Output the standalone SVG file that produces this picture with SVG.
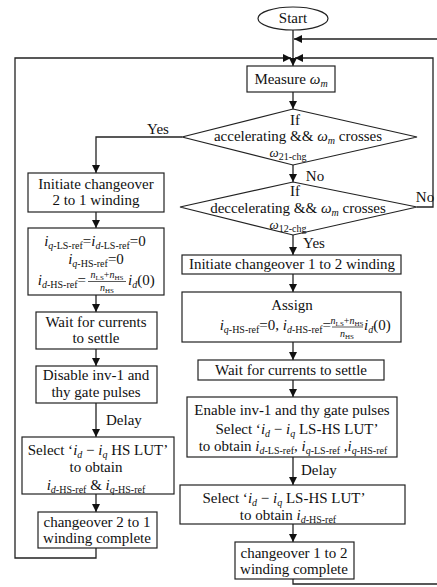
<svg xmlns="http://www.w3.org/2000/svg" width="437" height="587" viewBox="0 0 437 587">
<style>
.b{fill:#fff;stroke:#222;stroke-width:1.2}
.c{fill:none;stroke:#222;stroke-width:1.3}
.t{font-family:"Liberation Serif","Times New Roman",serif;font-size:15px;fill:#111;text-anchor:middle}
.st{text-anchor:start}
.en{text-anchor:end}
.i{font-style:italic}
.s{font-size:10px;baseline-shift:-3px}
.f{font-size:10px}
.fs{font-size:7px;baseline-shift:-2px}
.bar{stroke:#111;stroke-width:0.7}
</style>
<defs>
<marker id="a" viewBox="0 0 10 10" refX="10" refY="5" markerWidth="9" markerHeight="8" markerUnits="userSpaceOnUse" orient="auto">
<path d="M0,0 L10,5 L0,10 z" fill="#111"/>
</marker>
</defs>
<g id="connectors">
<path class="c" d="M293,30 V66" marker-end="url(#a)"/>
<path class="c" d="M293,579 V584 H438 V39 H294" marker-end="url(#a)"/>
<path class="c" d="M96,548 V558 H15 V58 H291" marker-end="url(#a)"/>
<path class="c" d="M417,207 H433 V58 H295" marker-end="url(#a)"/>
<path class="c" d="M293,92 V109" marker-end="url(#a)"/>
<path class="c" d="M293,165 V182" marker-end="url(#a)"/>
<path class="c" d="M182,137 H96 V173" marker-end="url(#a)"/>
<path class="c" d="M96,212 V228" marker-end="url(#a)"/>
<path class="c" d="M96,295 V312" marker-end="url(#a)"/>
<path class="c" d="M96,349 V366" marker-end="url(#a)"/>
<path class="c" d="M96,403 V437" marker-end="url(#a)"/>
<path class="c" d="M96,494 V512" marker-end="url(#a)"/>
<path class="c" d="M293,235 V255" marker-end="url(#a)"/>
<path class="c" d="M293,274 V292" marker-end="url(#a)"/>
<path class="c" d="M293,342 V360" marker-end="url(#a)"/>
<path class="c" d="M293,380 V397" marker-end="url(#a)"/>
<path class="c" d="M293,457 V485" marker-end="url(#a)"/>
<path class="c" d="M293,524 V542" marker-end="url(#a)"/>
<text class="t" x="158" y="134">Yes</text>
<text class="t" x="315" y="181">No</text>
<text class="t" x="425" y="202">No</text>
<text class="t" x="314" y="248">Yes</text>
<text class="t st" x="106" y="425">Delay</text>
<text class="t st" x="301" y="475">Delay</text>
</g>
<g id="start">
<ellipse class="b" cx="293" cy="18.5" rx="35" ry="11.5"/>
<text class="t" x="293" y="23">Start</text>
</g>
<g id="measure">
<rect class="b" x="247" y="66" width="88" height="26"/>
<text class="t" x="291" y="84">Measure <tspan class="i">ω</tspan><tspan class="s i">m</tspan></text>
</g>
<g id="dec1">
<polygon class="b" points="293,109 417,137 293,165 182,137"/>
<text class="t" x="295" y="124.5" font-size="14">If</text>
<text class="t" x="298" y="141">accelerating &amp;&amp; <tspan class="i">ω</tspan><tspan class="s i">m</tspan> crosses</text>
<text class="t" x="288" y="157"><tspan class="i" font-size="13">ω</tspan><tspan class="s">21-chg</tspan></text>
</g>
<g id="dec2">
<polygon class="b" points="293,182 417,207 293,235 180,207"/>
<text class="t" x="295" y="196" font-size="14">If</text>
<text class="t" x="298" y="212.5">deccelerating &amp;&amp; <tspan class="i">ω</tspan><tspan class="s i">m</tspan> crosses</text>
<text class="t" x="288" y="229"><tspan class="i" font-size="13">ω</tspan><tspan class="s">12-chg</tspan></text>
</g>
<g id="init21">
<rect class="b" x="28" y="173" width="136" height="39"/>
<text class="t" x="96" y="189">Initiate changeover</text>
<text class="t" x="96" y="205">2 to 1 winding</text>
</g>
<g id="assign21">
<rect class="b" x="28" y="228" width="136" height="67"/>
<text class="t" x="95" y="246"><tspan class="i">i</tspan><tspan class="s"><tspan class="i">q</tspan>-LS-ref</tspan>=<tspan class="i">i</tspan><tspan class="s"><tspan class="i">d</tspan>-LS-ref</tspan>=0</text>
<text class="t" x="96" y="264"><tspan class="i">i</tspan><tspan class="s"><tspan class="i">q</tspan>-HS-ref</tspan>=0</text>
<text class="t en" x="86" y="285"><tspan class="i">i</tspan><tspan class="s"><tspan class="i">d</tspan>-HS-ref</tspan>=</text>
<text class="t f" x="107" y="278"><tspan class="i">n</tspan><tspan class="fs">LS</tspan>+<tspan class="i">n</tspan><tspan class="fs">HS</tspan></text>
<line class="bar" x1="88" y1="281.5" x2="126" y2="281.5"/>
<text class="t f" x="107" y="291"><tspan class="i">n</tspan><tspan class="fs">HS</tspan></text>
<text class="t st" x="128" y="285"><tspan class="i">i</tspan><tspan class="s i">d</tspan>(0)</text>
</g>
<g id="wait21">
<rect class="b" x="36" y="312" width="121" height="37"/>
<text class="t" x="96" y="327">Wait for currents</text>
<text class="t" x="96" y="343">to settle</text>
</g>
<g id="disable">
<rect class="b" x="36" y="366" width="121" height="37"/>
<text class="t" x="96" y="380">Disable inv-1 and</text>
<text class="t" x="96" y="397">thy gate pulses</text>
</g>
<g id="selecths">
<rect class="b" x="22" y="437" width="152" height="57"/>
<text class="t" x="98" y="455">Select ‘<tspan class="i">i</tspan><tspan class="s i">d</tspan> − <tspan class="i">i</tspan><tspan class="s i">q</tspan> HS LUT’</text>
<text class="t" x="96" y="472">to obtain</text>
<text class="t" x="96" y="490"><tspan class="i">i</tspan><tspan class="s"><tspan class="i">d</tspan>-HS-ref</tspan> &amp; <tspan class="i">i</tspan><tspan class="s"><tspan class="i">q</tspan>-HS-ref</tspan></text>
</g>
<g id="done21">
<rect class="b" x="38" y="512" width="119" height="36"/>
<text class="t" x="97" y="527">changeover 2 to 1</text>
<text class="t" x="97" y="543">winding complete</text>
</g>
<g id="init12">
<rect class="b" x="182" y="255" width="219" height="19"/>
<text class="t" x="292" y="269">Initiate changeover 1 to 2 winding</text>
</g>
<g id="assign12">
<rect class="b" x="182" y="292" width="219" height="50"/>
<text class="t" x="292" y="310">Assign</text>
<text class="t en" x="331" y="330"><tspan class="i">i</tspan><tspan class="s"><tspan class="i">q</tspan>-HS-ref</tspan>=0, <tspan class="i">i</tspan><tspan class="s"><tspan class="i">d</tspan>-HS-ref</tspan>=</text>
<text class="t f" x="347" y="323.5"><tspan class="i">n</tspan><tspan class="fs">LS</tspan>+<tspan class="i">n</tspan><tspan class="fs">HS</tspan></text>
<line class="bar" x1="332" y1="327" x2="363" y2="327"/>
<text class="t f" x="347" y="336.5"><tspan class="i">n</tspan><tspan class="fs">HS</tspan></text>
<text class="t st" x="364" y="330"><tspan class="i">i</tspan><tspan class="s i">d</tspan>(0)</text>
</g>
<g id="wait12">
<rect class="b" x="198" y="360" width="186" height="20"/>
<text class="t" x="291" y="375">Wait for currents to settle</text>
</g>
<g id="enable">
<rect class="b" x="187" y="397" width="210" height="60"/>
<text class="t" x="292" y="415">Enable inv-1 and thy gate pulses</text>
<text class="t" x="297" y="434">Select  ‘<tspan class="i">i</tspan><tspan class="s i">d</tspan> − <tspan class="i">i</tspan><tspan class="s i">q</tspan> LS-HS LUT’</text>
<text class="t" x="293" y="451">to obtain <tspan class="i">i</tspan><tspan class="s"><tspan class="i">d</tspan>-LS-ref</tspan>, <tspan class="i">i</tspan><tspan class="s"><tspan class="i">q</tspan>-LS-ref</tspan> ,<tspan class="i">i</tspan><tspan class="s"><tspan class="i">q</tspan>-HS-ref</tspan></text>
</g>
<g id="selectlshs">
<rect class="b" x="180" y="485" width="225" height="39"/>
<text class="t" x="284" y="503">Select ‘<tspan class="i">i</tspan><tspan class="s i">d</tspan> − <tspan class="i">i</tspan><tspan class="s i">q</tspan> LS-HS LUT’</text>
<text class="t" x="288" y="520">to obtain <tspan class="i">i</tspan><tspan class="s"><tspan class="i">d</tspan>-HS-ref</tspan></text>
</g>
<g id="done12">
<rect class="b" x="235" y="542" width="119" height="37"/>
<text class="t" x="294" y="557.5">changeover 1 to 2</text>
<text class="t" x="294" y="573.5">winding complete</text>
</g>
</svg>
